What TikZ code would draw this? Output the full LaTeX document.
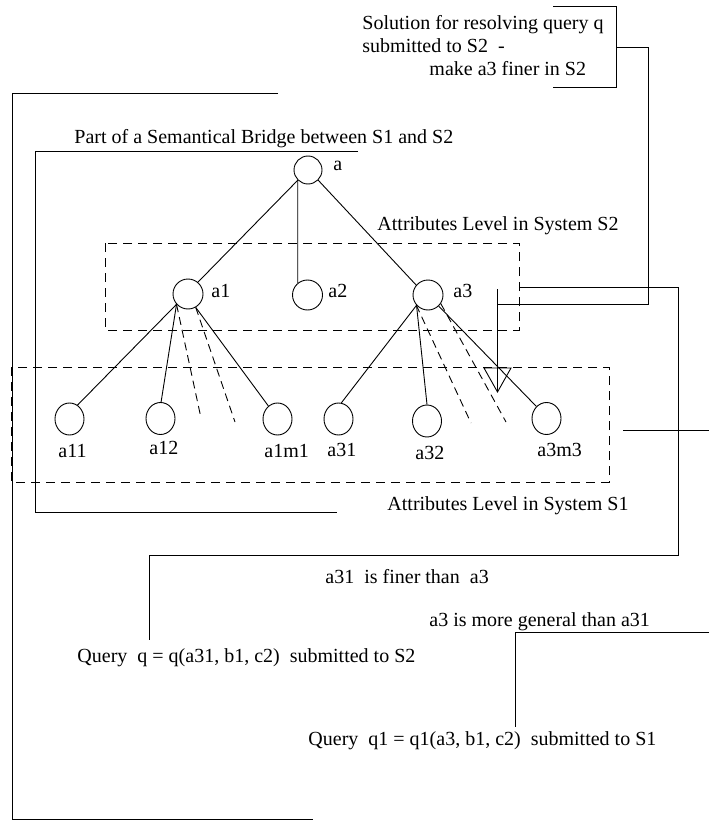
\documentclass[tikz,border=0pt]{standalone}
\usepackage{fontspec}
\setmainfont{Liberation Serif}
\usetikzlibrary{shapes.geometric}
\begin{document}
\begin{tikzpicture}[x=1pt,y=-1pt,line width=0.9pt,
  circ/.style={circle, draw, minimum size=30pt, inner sep=0pt},
  leaf/.style={ellipse, draw, minimum width=29pt, minimum height=32pt, inner sep=0pt},
  lbl/.style={inner sep=0pt, anchor=base west, font=\fontsize{20}{23}\selectfont},
  dbox/.style={dash pattern=on 9pt off 6pt},
  dline/.style={dash pattern=on 8pt off 5pt},
]
\useasboundingbox[fill=white] (0,0) rectangle (709,821);

% tree nodes
\node[circ, minimum size=28pt] (a) at (308,170) {};
\node[circ] (a1) at (188,294) {};
\node[circ] (a2) at (307.5,295) {};
\node[circ] (a3) at (428,295) {};
\node[leaf] (a11) at (69.5,419) {};
\node[leaf] (a12) at (160.5,418.5) {};
\node[leaf] (a1m1) at (277.5,419) {};
\node[leaf] (a31) at (338.5,419) {};
\node[leaf] (a32) at (427,421) {};
\node[leaf] (a3m3) at (546.5,418.5) {};

% labels
\node[lbl] (la) at (333,171) {a};
\node[lbl] (la1) at (211,297) {a1};
\node[lbl] (la2) at (328,297) {a2};
\node[lbl] (la3) at (453,297) {a3};
\node[lbl] (la11) at (58,457) {a11};
\node[lbl] (la12) at (149,454) {a12};
\node[lbl] (la1m1) at (264,457) {a1m1};
\node[lbl] (la31) at (327,456) {a31};
\node[lbl] (la32) at (415,459) {a32};
\node[lbl] (la3m3) at (537,456) {a3m3};

\node[lbl] (tbridge) at (74,144) {Part of a Semantical Bridge between S1 and S2};
\node[lbl] (ts2) at (377,230) {Attributes Level in System S2};
\node[lbl] (ts1) at (387,510) {Attributes Level in System S1};
\node[lbl] (tsol1) at (362,30) {Solution for resolving query q};
\node[lbl] (tsol2) at (362,53) {submitted to S2\ \ -};
\node[lbl] (tsol3) at (429,76) {make a3 finer in S2};
\node[lbl] (tfiner) at (325,583) {a31\ \ is finer than\ \ a3};
\node[lbl] (tgen) at (429,626) {a3 is more general than a31};
\node[lbl] (tq) at (77,662) {Query\ \ q = q(a31, b1, c2)\ \ submitted to S2};
\node[lbl] (tq1) at (308,745) {Query\ \ q1 = q1(a3, b1, c2)\ \ submitted to S1};

% tree edges
\draw (a.225) -- (a1.50);
\draw (a.225) -- (a2.129);
\draw (a.315) -- (a3.140);

\coordinate (d11) at (201,418);
\coordinate (d12) at (235,422);
\coordinate (d31) at (471,423);
\coordinate (d32) at (506,422);
\draw (a1.222) -- (a11.60);
\draw (a1.222) -- (a12.88);
\draw[dline] (a1.222) -- (d11);
\draw[dline] (a1.300) -- (d12);
\draw (a1.300) -- (a1m1.125);
\draw (a3.222) -- (a31.80);
\draw (a3.222) -- (a32.90);
\draw[dline] (a3.220) -- (d31);
\draw[dline] (a3.326) -- (d32);
\draw (a3.314) -- (a3m3.130);

% dashed level boxes
\coordinate (s2nw) at (105,243);
\coordinate (s2se) at (519,330);
\draw[dbox] (s2nw) rectangle (s2se);
\coordinate (s1nw) at (11,367);
\coordinate (s1se) at (609,482);
\draw[dbox] (s1nw) rectangle (s1se);

% solution bracket and arrow
\coordinate (b1) at (553,6);
\coordinate (b2) at (616,6);
\coordinate (b3) at (616,87);
\coordinate (b4) at (553,87);
\draw (b1) -- (b2) -- (b3) -- (b4);
\coordinate (c1) at (616,47);
\coordinate (c2) at (648,47);
\coordinate (c3) at (648,304);
\coordinate (c4) at (497.5,304);
\coordinate (c5) at (497.5,289);
\coordinate (tip) at (497.5,392);
\draw (c1) -- (c2) -- (c3) -- (c4);
\draw (c5) -- (tip);
\draw[line join=miter] (tip) -- ++(-13.5,-24) -- ++(27,0) -- cycle;

% finer connector
\coordinate (e1) at (519,287);
\coordinate (e2) at (678,287);
\coordinate (e3) at (678,555);
\coordinate (e4) at (149,555);
\coordinate (e5) at (149,640);
\draw (e1) -- (e2) -- (e3) -- (e4) -- (e5);
\coordinate (f1) at (623,430);
\coordinate (f2) at (709,430);
\draw (f1) -- (f2);

% general connector
\coordinate (g1) at (709,632);
\coordinate (g2) at (515,632);
\coordinate (g3) at (515,727);
\draw (g1) -- (g2) -- (g3);

% outer and inner brackets
\coordinate (o1) at (278,93);
\coordinate (o2) at (12,93);
\coordinate (o3) at (12,819.5);
\coordinate (o4) at (313,819.5);
\draw (o1) -- (o2) -- (o3) -- (o4);
\coordinate (i1) at (358,151);
\coordinate (i2) at (35,151);
\coordinate (i3) at (35,512);
\coordinate (i4) at (337,512);
\draw (i1) -- (i2) -- (i3) -- (i4);
\end{tikzpicture}
\end{document}
